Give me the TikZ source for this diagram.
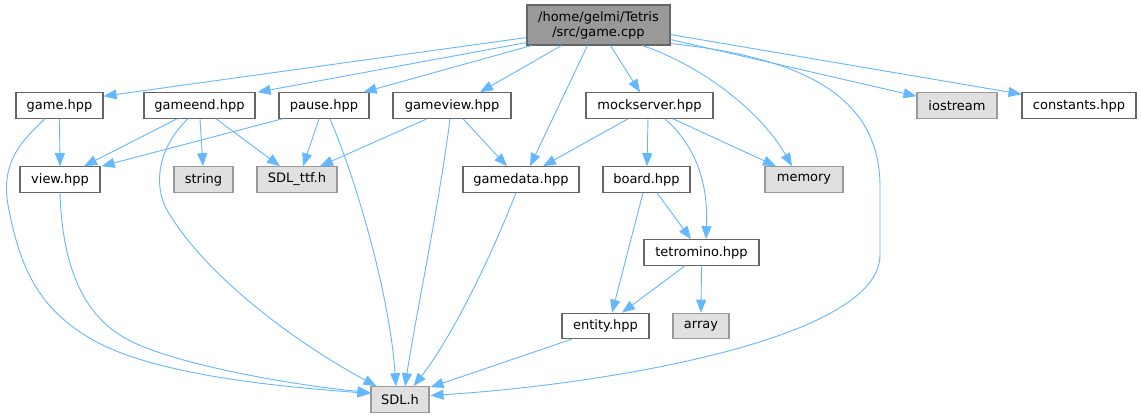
\documentclass[tikz,border=0pt]{standalone}
\usepackage{fontspec}
\setmainfont{DejaVu Sans}
\usetikzlibrary{arrows.meta,calc}
\definecolor{edgec}{HTML}{63B8FF}
\definecolor{bdark}{HTML}{666666}
\definecolor{blight}{HTML}{999999}
\definecolor{sysfill}{HTML}{E0E0E0}
\definecolor{topfill}{HTML}{999999}
\begin{document}
\begin{tikzpicture}[x=1pt,y=-1pt,
  font=\fontsize{13}{15}\selectfont,
  hdr/.style={draw=bdark, line width=1.1pt, fill=white, inner sep=0pt,
              minimum height=25.5pt, text=black},
  sys/.style={hdr, draw=blight, fill=sysfill},
  topnode/.style={hdr, fill=topfill, minimum height=40pt, align=center},
  dep/.style={draw=edgec, line width=0.9pt, -{Triangle[length=13pt,width=10pt]}}]
\useasboundingbox[fill=white] (0,0) rectangle (1141,417);

% nodes
\node[topnode, minimum width=143pt] (gamecpp) at (598.5,25) {/home/gelmi/Tetris\\/src/game.cpp};
\node[hdr, minimum width=87pt]  (gamehpp)    at (59.5,105.5) {game.hpp};
\node[hdr, minimum width=111pt] (gameend)    at (199.5,105.5) {gameend.hpp};
\node[hdr, minimum width=90pt]  (pause)      at (324,105.5) {pause.hpp};
\node[hdr, minimum width=118pt] (gameview)   at (452,105.5) {gameview.hpp};
\node[hdr, minimum width=127pt] (mockserver) at (649.5,105.5) {mockserver.hpp};
\node[sys, minimum width=80pt]  (iostream)   at (957,105.5) {iostream};
\node[hdr, minimum width=114pt] (constants)  at (1079,105.5) {constants.hpp};
\node[hdr, minimum width=80pt]  (view)       at (60,179.5) {view.hpp};
\node[sys, minimum width=59pt]  (string)     at (203.5,179.5) {string};
\node[sys, minimum width=80pt]  (SDLttf)     at (297,179.5) {SDL\_ttf.h};
\node[hdr, minimum width=116pt] (gamedata)   at (521,179.5) {gamedata.hpp};
\node[hdr, minimum width=87pt]  (board)      at (646.5,179.5) {board.hpp};
\node[sys, minimum width=78pt]  (memory)     at (804,179.5) {memory};
\node[hdr, minimum width=115pt] (tetromino)  at (701.5,252.5) {tetromino.hpp};
\node[hdr, minimum width=87pt]  (entity)     at (605.5,326) {entity.hpp};
\node[sys, minimum width=56pt]  (array)      at (701,326) {array};
\node[sys, minimum width=58pt]  (SDL)        at (400,399.5) {SDL.h};

% edges from game.cpp
\draw[dep] ($(gamecpp.south west)+(0,-8)$) -- ($(gamehpp.north east)+(0,4)$);
\draw[dep] ($(gamecpp.south west)+(0,-3)$) -- ($(gameend.north east)+(2,0)$);
\draw[dep] ($(gamecpp.south west)+(5,0)$) -- ($(pause.north east)+(-6,0)$);
\draw[dep] ($(gamecpp.south west)+(35,0)$) -- ($(gameview.north)+(28,0)$);
\draw[dep] ($(gamecpp.south west)+(61,0)$) -- ($(gamedata.north)+(9,0)$);
\draw[dep] ($(gamecpp.south west)+(84,0)$) -- ($(mockserver.north)+(-9.5,0)$);
\draw[dep] ($(gamecpp.south west)+(116,0)$) .. controls (700,65) and (760,110) .. ($(memory.north)+(-12,0)$);
\draw[dep] ($(gamecpp.south east)+(0,-2)$) .. controls (810,58) and (879,100) .. (880,185)
   -- (880,255) .. controls (880,340) and (600,385) .. ($(SDL.east)+(1,-4)$);
\draw[dep] ($(gamecpp.south east)+(0,-6)$) -- ($(iostream.north west)+(0,4)$);
\draw[dep] ($(gamecpp.south east)+(0,-11)$) -- ($(constants.north west)+(0,2)$);

% game.hpp
\draw[dep] (gamehpp.south) -- (view.north);
\draw[dep] ($(gamehpp.south)+(-14.5,0)$) .. controls (25,138) and (0,160) .. (8,205)
   .. controls (20,270) and (40,310) .. (93,340)
   .. controls (160,378) and (300,388) .. ($(SDL.west)+(0,-6)$);

% gameend.hpp
\draw[dep] ($(gameend.south)+(-22.5,0)$) -- ($(view.north)+(24,0)$);
\draw[dep] ($(gameend.south)+(0.5,0)$) -- ($(string.north)+(-0.5,0)$);
\draw[dep] ($(gameend.south)+(16.5,0)$) -- ($(SDLttf.north)+(-17,0)$);
\draw[dep] ($(gameend.south)+(-11.5,0)$) .. controls (160,145) and (150,185) .. (170,215)
   .. controls (210,280) and (300,345) .. ($(SDL.north west)+(6,0)$);

% pause.hpp
\draw[dep] ($(pause.south west)+(4,0)$) -- ($(view.north east)+(1,0)$);
\draw[dep] ($(pause.south)+(-5,0)$) -- ($(SDLttf.north)+(6,0)$);
\draw[dep] ($(pause.south)+(6,0)$) .. controls (360,190) and (390,300) .. ($(SDL.north)+(-4,0)$);

% gameview.hpp
\draw[dep] ($(gameview.south)+(-25,0)$) -- ($(SDLttf.north)+(23,0)$);
\draw[dep] ($(gameview.south)+(11,0)$) -- ($(gamedata.north)+(-14,0)$);
\draw[dep] ($(gameview.south)+(-2,0)$) .. controls (440,200) and (415,320) .. ($(SDL.north)+(5,0)$);

% mockserver.hpp
\draw[dep] ($(mockserver.south)+(-21.5,0)$) -- ($(gamedata.north)+(22,0)$);
\draw[dep] ($(mockserver.south)+(-1.5,0)$) -- ($(board.north)+(0.5,0)$);
\draw[dep] ($(mockserver.south)+(15.5,0)$) .. controls (700,150) and (708,190) .. ($(tetromino.north)+(4.5,0)$);
\draw[dep] ($(mockserver.south)+(23.5,0)$) -- ($(memory.north)+(-28,0)$);

% view.hpp
\draw[dep] (view.south) .. controls (62,260) and (80,310) .. (120,335)
   .. controls (160,362) and (290,385) .. ($(SDL.west)+(0,-7)$);

% gamedata.hpp
\draw[dep] ($(gamedata.south)+(-5,0)$) .. controls (490,260) and (450,340) .. ($(SDL.north east)+(-16,0)$);

% board.hpp
\draw[dep] ($(board.south)+(10.5,0)$) -- ($(tetromino.north)+(-10.5,0)$);
\draw[dep] ($(board.south)+(-3.5,0)$) -- ($(entity.north)+(6.5,0)$);

% tetromino.hpp
\draw[dep] ($(tetromino.south)+(-16.5,0)$) -- ($(entity.north)+(16.5,0)$);
\draw[dep] (tetromino.south) -- (array.north);

% entity.hpp
\draw[dep] ($(entity.south west)+(10,0)$) -- ($(SDL.north east)+(1,1)$);
\end{tikzpicture}
\end{document}
